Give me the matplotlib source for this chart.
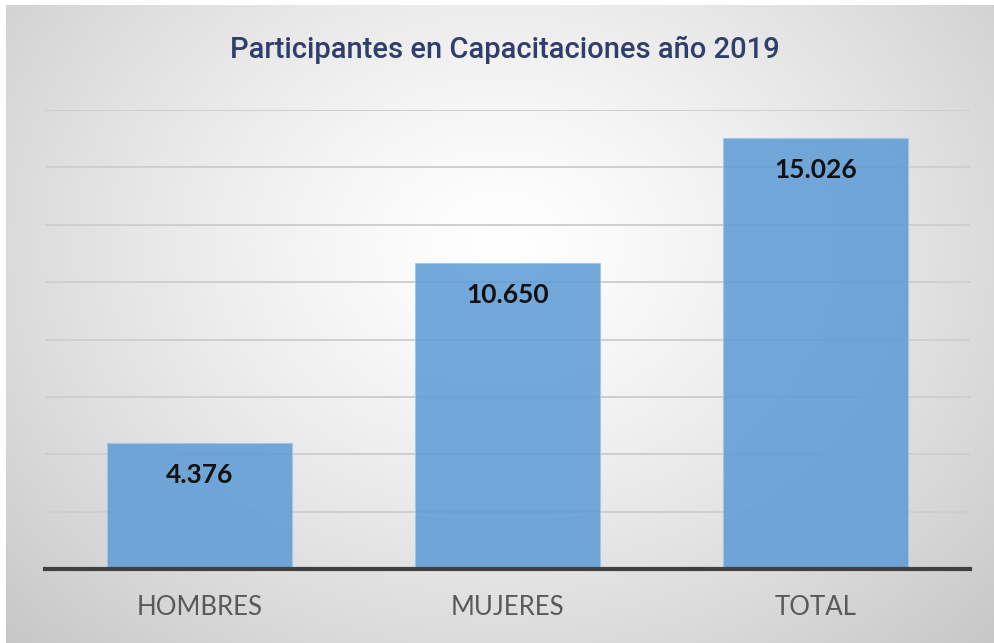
import numpy as np
import matplotlib
matplotlib.use("Agg")
import matplotlib.pyplot as plt

categorias = ["HOMBRES", "MUJERES", "TOTAL"]
participantes = [4376, 10650, 15026]
etiquetas = ["4.376", "10.650", "15.026"]
titulo = "Participantes en Capacitaciones año 2019"

fig = plt.figure(figsize=(9.95, 6.43), dpi=100, facecolor="white")

# background panel with a soft radial gradient
bg = fig.add_axes([6 / 995, 0, 1 - 6 / 995, 1 - 5 / 643])
yy, xx = np.mgrid[0:1:300j, 0:1:500j]
r = np.sqrt(((xx - 0.5) / 0.75) ** 2 + ((yy - 0.38) / 0.95) ** 2)
shade = 1.0 - 0.24 * np.clip(r, 0, 1) ** 1.3
bg.imshow(np.dstack([shade] * 3), aspect="auto", extent=[0, 1, 1, 0])
bg.set_axis_off()

ax = fig.add_axes([45 / 995, 1 - 569 / 643, 925 / 995, (569 - 110) / 643])
ax.patch.set_alpha(0)

x = np.arange(len(categorias))
ax.set_xlim(-0.5, len(categorias) - 0.5)
ax.set_ylim(0, 16000)
ax.set_yticks(np.arange(0, 16001, 2000))
ax.yaxis.grid(True, color="#cfcfcf", linewidth=1.4)
ax.set_axisbelow(True)

bars = ax.bar(x, participantes, width=0.6, color="#5b9bd5", alpha=0.85,
              edgecolor="#9fc5ea", linewidth=0.8, zorder=2)

for b, lab in zip(bars, etiquetas):
    ax.annotate(lab, (b.get_x() + b.get_width() / 2, b.get_height()),
                xytext=(0, -23), textcoords="offset points",
                ha="center", va="center", fontsize=19, fontweight="bold",
                family="Lato", color="#111111", zorder=3)

for s in ["top", "right", "left"]:
    ax.spines[s].set_visible(False)
ax.spines["bottom"].set_color("#404040")
ax.spines["bottom"].set_linewidth(3)
ax.spines["bottom"].set_zorder(4)

ax.set_xticks(x)
ax.set_xticklabels(categorias, fontsize=18.5, family="Lato", color="#595959")
ax.tick_params(axis="x", length=0, pad=19)
ax.tick_params(axis="y", length=0, labelleft=False)

fig.text(505 / 995, 1 - 50 / 643, titulo, ha="center", va="center",
         fontsize=21, family="Roboto", fontweight="medium", color="#2f3e6b")

fig.savefig("out.png", dpi=100, facecolor="white")
